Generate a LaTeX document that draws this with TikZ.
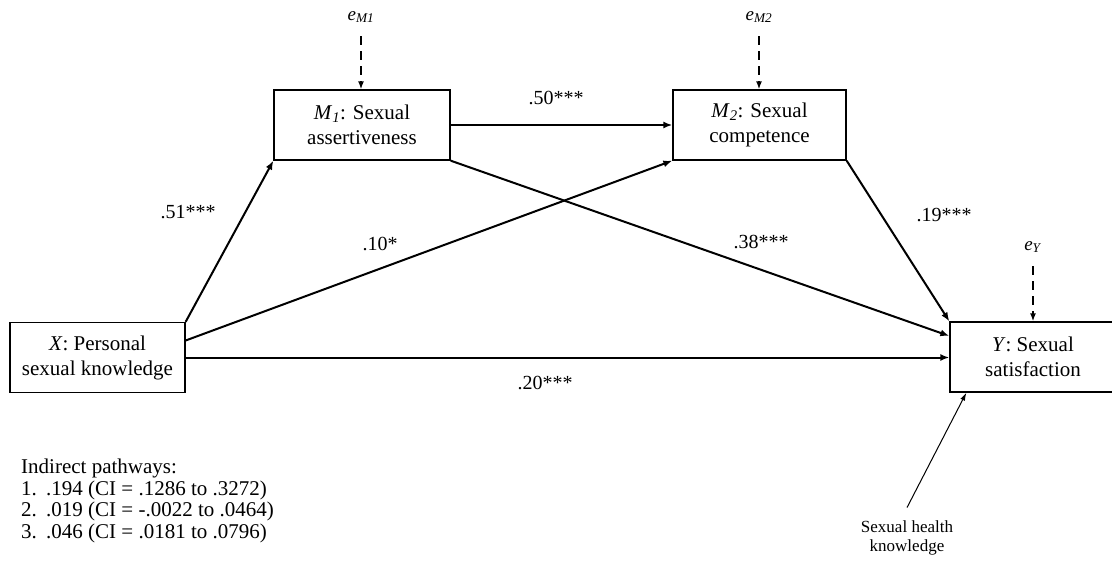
\documentclass[tikz,border=0pt]{standalone}
\usepackage{fontspec}
\setmainfont{Liberation Serif}
\usetikzlibrary{positioning,arrows.meta}

\begin{document}
\begin{tikzpicture}[
	x=1pt, y=-1pt,
	font=\fontsize{21}{25}\selectfont,
	var/.style={
		draw,
		line width=1.3pt,
		minimum height=70pt,
		minimum width=176pt,
		align=center,
		inner sep=2pt,
	},
	err/.style={font=\fontsize{19}{22}\selectfont, inner sep=1pt},
	coef/.style={font=\fontsize{20}{24}\selectfont, inner sep=1pt},
	path/.style={-{Latex[length=9pt,width=7pt]}, line width=2pt},
	resid/.style={-{Latex[length=8pt,width=6pt]}, line width=2.5pt, dash pattern=on 9pt off 6pt},
	covar/.style={-{Latex[length=8pt,width=5pt]}, line width=1pt},
]
\useasboundingbox (0,0) rectangle (1112,562);

% Variablen des Modells
\node[var, minimum width=175pt] (x) at (97.5,357.5) {\textit{X}: Personal\\sexual knowledge};
\node[var] (m1) at (362,125) {\textit{M}\textsubscript{\textit{1}}: Sexual\\assertiveness};
\node[var, minimum width=173pt] (m2) at (759.5,125) {\textit{M}\textsubscript{\textit{2}}: Sexual\\competence};
\node[var, minimum width=166pt] (y) at (1033,357) {\textit{Y}: Sexual\\satisfaction};

% Fehlerterme
\node[err] (em1) at (361,17) {\textit{e}\textsubscript{\textit{M1}}};
\node[err] (em2) at (759,17) {\textit{e}\textsubscript{\textit{M2}}};
\node[err] (ey) at (1033,247) {\textit{e}\textsubscript{\textit{Y}}};

\draw[resid, shorten <=12pt] (em1) -- (em1 |- m1.north);
\draw[resid, shorten <=12pt] (em2) -- (em2 |- m2.north);
\draw[resid, shorten <=12pt] (ey) -- (ey |- y.north);

% Pfade
\draw[path] (x.north east) -- (m1.south west);
\draw[path] ([yshift=17pt]x.east) -- (m2.south west);
\draw[path] (x.east) -- (x.east -| y.west);
\draw[path] (m1) -- (m2);
\draw[path] (m1.south east) -- ([yshift=21pt]y.west);
\draw[path] (m2.south east) -- (y.north west);

% Koeffizienten
\node[coef] (c51) at (188,212) {.51***};
\node[coef] (c10) at (380,244) {.10*};
\node[coef] (c20) at (545,383) {.20***};
\node[coef] (c50) at (556,98) {.50***};
\node[coef] (c38) at (761,242) {.38***};
\node[coef] (c19) at (944,215) {.19***};

% Kovariate
\node[font=\fontsize{17}{19}\selectfont, align=center, inner sep=1pt] (shk) at (907,538) {Sexual health\\knowledge};
\draw[covar] ([yshift=12pt]shk.north) -- ([xshift=17pt]y.south west);

% Indirekte Effekte
\node[anchor=north west, align=left, inner sep=0pt, font=\fontsize{21}{21.5}\selectfont] (indirect) at (21,459) {Indirect pathways:\\
\makebox[25pt][l]{1.}.194 (CI = .1286 to .3272)\\
\makebox[25pt][l]{2.}.019 (CI = -.0022 to .0464)\\
\makebox[25pt][l]{3.}.046 (CI = .0181 to .0796)};

\end{tikzpicture}
\end{document}
